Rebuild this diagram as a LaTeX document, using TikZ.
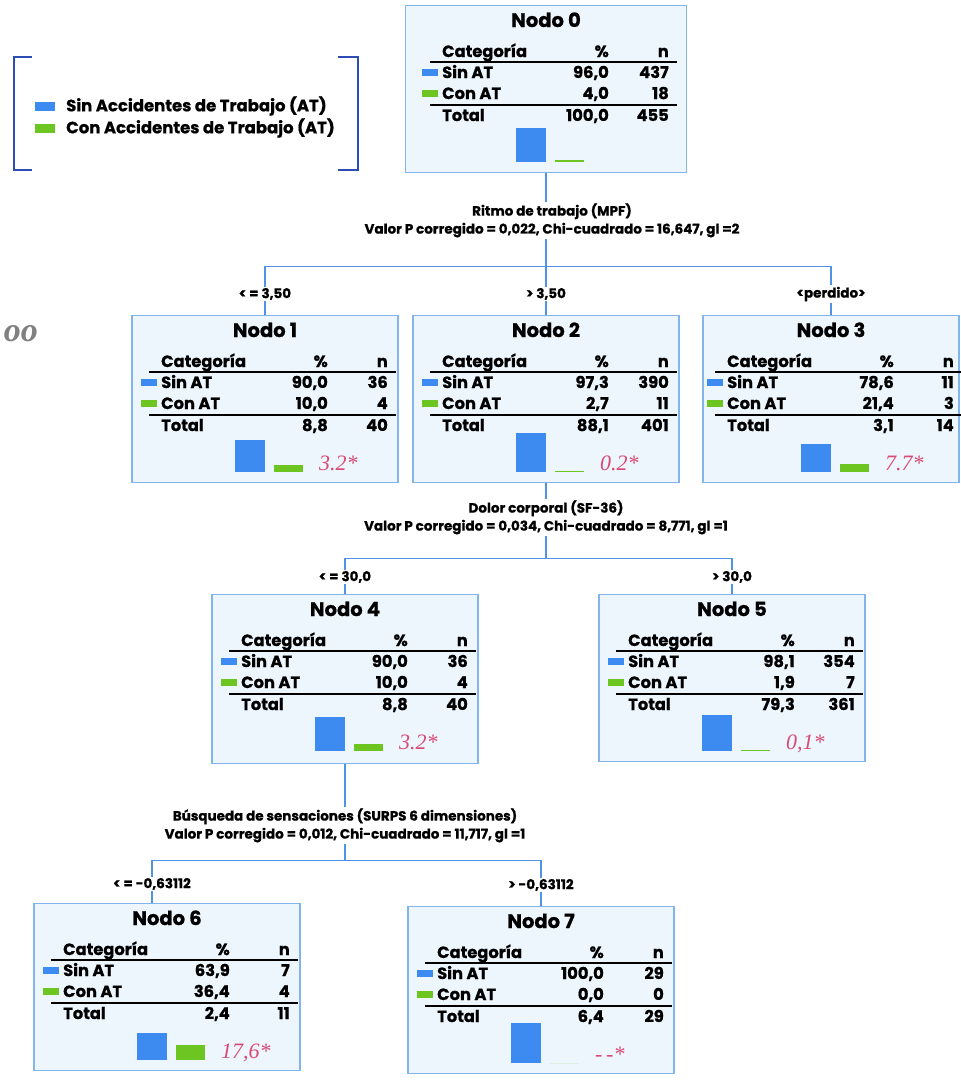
\documentclass[tikz,border=0pt]{standalone}
\usepackage{fontspec}
\setmainfont{Poppins}[BoldFeatures={FakeBold=0.8}]
\newfontfamily\serifa{Liberation Serif}
\usetikzlibrary{calc}

\definecolor{azul}{HTML}{3D8BF0}
\definecolor{verde}{HTML}{6CC520}
\definecolor{fondo}{HTML}{EDF6FD}
\definecolor{borde}{HTML}{82B4EE}
\definecolor{linea}{HTML}{4F92E6}
\definecolor{rosa}{HTML}{D84A74}
\definecolor{corchete}{HTML}{2C4DB3}

\newcommand{\tabla}[8]{%
  \node[titulo] (#1t) at ($(#1.north)+(0,22)$) {#2};
  \node[celda,anchor=base west] (#1c) at ($(#1.north)+(-104,52)$) {Categoría};
  \node[celda,anchor=base east] (#1p) at ($(#1.north)+(63,52)$) {\%};
  \node[celda,anchor=base east] (#1n) at ($(#1.north)+(123,52)$) {n};
  \draw[line width=1.4pt] ($(#1.north)+(-116,57)$) -- ($(#1.north)+(131,57)$);
  \fill[azul] ($(#1.north)+(-124,64)$) rectangle ++(16,7);
  \node[celda,anchor=base west] (#1s) at ($(#1.north)+(-104,73)$) {Sin AT};
  \node[celda,anchor=base east] (#1sp) at ($(#1.north)+(63,73)$) {#3};
  \node[celda,anchor=base east] (#1sn) at ($(#1.north)+(123,73)$) {#4};
  \fill[verde] ($(#1.north)+(-124,85)$) rectangle ++(16,7);
  \node[celda,anchor=base west] (#1k) at ($(#1.north)+(-104,94)$) {Con AT};
  \node[celda,anchor=base east] (#1kp) at ($(#1.north)+(63,94)$) {#5};
  \node[celda,anchor=base east] (#1kn) at ($(#1.north)+(123,94)$) {#6};
  \draw[line width=1.4pt] ($(#1.north)+(-116,100)$) -- ($(#1.north)+(131,100)$);
  \node[celda,anchor=base west] (#1o) at ($(#1.north)+(-104,116)$) {Total};
  \node[celda,anchor=base east] (#1op) at ($(#1.north)+(63,116)$) {#7};
  \node[celda,anchor=base east] (#1on) at ($(#1.north)+(123,116)$) {#8};
}

\newcommand{\barras}[4]{%
  \fill[azul] ($(#1.north)+(-30,157)$) rectangle ++(30,-#2);
  \fill[verde] ($(#1.north)+(9,157)$) rectangle ++(29,-#3);
  \node[valor] (#1v) at ($(#1.north)+(54,155)$) {#4};
}

\begin{document}
\begin{tikzpicture}[x=1pt,y=-1pt,
  nodo/.style={rectangle,draw=borde,fill=fondo,line width=1.3pt,minimum width=266pt,minimum height=167pt,inner sep=0pt,anchor=north},
  titulo/.style={font=\bfseries\fontsize{19.5}{19.5}\selectfont,anchor=base,inner sep=0pt},
  celda/.style={font=\bfseries\fontsize{16.3}{16.3}\selectfont,inner sep=0pt},
  rama/.style={draw=linea,line width=1.4pt},
  corte/.style={font=\bfseries\fontsize{13.5}{18}\selectfont,align=center,fill=white,inner sep=1.5pt},
  leyenda/.style={font=\bfseries\fontsize{16.5}{16.5}\selectfont,anchor=west,inner sep=0pt},
  valor/.style={font=\serifa\itshape\fontsize{22}{22}\selectfont,text=rosa,anchor=base west,inner sep=0pt}]

  \useasboundingbox (0,0) rectangle (961,1080);

  \node[nodo,minimum width=281pt] (n0) at (546,5) {};
  \node[nodo] (n1) at (265,315) {};
  \node[nodo] (n2) at (546,315) {};
  \node[nodo,minimum width=256pt] (n3) at (831,315) {};
  \node[nodo,minimum height=169pt] (n4) at (345,594) {};
  \node[nodo] (n5) at (732,594) {};
  \node[nodo] (n6) at (167,903) {};
  \node[nodo] (n7) at (541,906) {};

  \tabla{n0}{Nodo 0}{96,0}{437}{4,0}{18}{100,0}{455}
  \barras{n0}{34}{2}{}
  \tabla{n1}{Nodo 1}{90,0}{36}{10,0}{4}{8,8}{40}
  \barras{n1}{32}{7}{3.2*}
  \tabla{n2}{Nodo 2}{97,3}{390}{2,7}{11}{88,1}{401}
  \barras{n2}{39}{1.5}{0.2*}
  \tabla{n3}{Nodo 3}{78,6}{11}{21,4}{3}{3,1}{14}
  \barras{n3}{28}{8}{7.7*}
  \tabla{n4}{Nodo 4}{90,0}{36}{10,0}{4}{8,8}{40}
  \barras{n4}{34}{7}{3.2*}
  \tabla{n5}{Nodo 5}{98,1}{354}{1,9}{7}{79,3}{361}
  \barras{n5}{36}{1.5}{0,1*}
  \tabla{n6}{Nodo 6}{63,9}{7}{36,4}{4}{2,4}{11}
  \barras{n6}{27}{15}{17,6*}
  \tabla{n7}{Nodo 7}{100,0}{29}{0,0}{0}{6,4}{29}
  \barras{n7}{40}{0}{-\,-*}

  \draw[rama] (n0.south) -- ++(0,93) coordinate (s0);
  \draw[rama] (n1.north) |- (s0) -| (n3.north);
  \draw[rama] (s0) -- (n2.north);
  \draw[rama] (n2.south) -- ++(0,75) coordinate (s2);
  \draw[rama] (n4.north) |- (s2) -| (n5.north);
  \draw[rama] (n4.south) -- ++(0,96) coordinate (s4);
  \draw[rama] ([xshift=-15pt]n6.north) |- (s4) -| (n7.north);

  \node[corte] (k0) at ($(n0.south)+(6,47)$) {Ritmo de trabajo (MPF)\\Valor P corregido = 0,022, Chi-cuadrado = 16,647, gl =2};
  \node[corte] (k2) at ($(n2.south)+(0,34)$) {Dolor corporal (SF-36)\\Valor P corregido = 0,034, Chi-cuadrado = 8,771, gl =1};
  \node[corte] (k4) at ($(n4.south)+(0,61)$) {Búsqueda de sensaciones (SURPS 6 dimensiones)\\Valor P corregido = 0,012, Chi-cuadrado = 11,717, gl =1};

  \node[corte] (r1) at ($(n1.north)+(0,-21)$) {< = 3,50};
  \node[corte] (r2) at ($(n2.north)+(0,-21)$) {> 3,50};
  \node[corte] (r3) at ($(n3.north)+(0,-21)$) {<perdido>};
  \node[corte] (r4) at ($(n4.north)+(0,-17)$) {< = 30,0};
  \node[corte] (r5) at ($(n5.north)+(0,-17)$) {> 30,0};
  \node[corte] (r6) at ($([xshift=-15pt]n6.north)+(0,-19)$) {< = -0,63112};
  \node[corte] (r7) at ($(n7.north)+(0,-21)$) {> -0,63112};

  \draw[corchete,line width=2.2pt] (32,57) -| (14,170) -- (32,170);
  \draw[corchete,line width=2.2pt] (338,57) -| (358,170) -- (338,170);
  \fill[azul] (35,102) rectangle (55,111);
  \node[leyenda] (lsin) at (66,106) {Sin Accidentes de Trabajo (AT)};
  \fill[verde] (35,124) rectangle (55,133);
  \node[leyenda] (lcon) at (66,128) {Con Accidentes de Trabajo (AT)};
  \node[anchor=east,text=gray,font=\serifa\bfseries\itshape\fontsize{34}{34}\selectfont,inner sep=0pt] (po) at (38,334) {oo};
\end{tikzpicture}
\end{document}
